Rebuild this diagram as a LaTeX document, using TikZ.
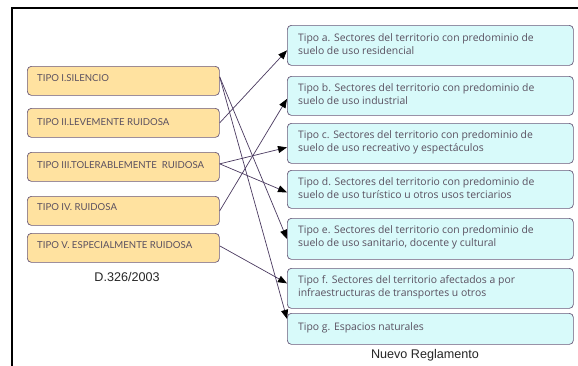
\documentclass[tikz,border=0pt]{standalone}
\usepackage{fontspec}
\setmainfont{Liberation Sans}
\newfontfamily\leftfont{Lato}
\newfontfamily\rightfont{Open Sans}
\usetikzlibrary{arrows.meta}
\definecolor{lfill}{HTML}{FFE2A0}
\definecolor{rfill}{HTML}{D8FAFA}
\definecolor{bord}{HTML}{6A5A7A}
\definecolor{txt}{HTML}{5A5060}
\definecolor{lnk}{HTML}{4A3A60}
\tikzset{
  lbox/.style={draw=bord, fill=lfill, rounded corners=4pt, line width=0.7pt,
    minimum width=192pt, minimum height=29pt, inner sep=0pt, anchor=north west},
  rbox/.style={draw=bord, fill=rfill, rounded corners=4pt, line width=0.7pt,
    minimum width=286pt, inner sep=0pt, anchor=north west},
  ltext/.style={anchor=west, inner sep=0pt, font=\leftfont\fontsize{9.6}{11}\selectfont, text=txt},
  rtext/.style={anchor=west, inner sep=0pt, align=left, font=\rightfont\fontsize{10.4}{13}\selectfont, text=txt},
  lnkline/.style={draw=lnk, line width=0.7pt, -{Triangle[length=9pt,width=7pt,color=black]}},
  caption/.style={font=\fontsize{12.6}{14}\selectfont, text=black!85}
}
\begin{document}
\begin{tikzpicture}[x=1pt,y=-1pt]
\useasboundingbox (0,0) rectangle (578,365);
\fill[white] (0,0) rectangle (578,365);
\draw[black, line width=2pt] (12,366) -- (12,8) -- (579,8);
% left boxes
\node[lbox] (l1) at (27,66) {};
\node[lbox] (l2) at (27,108) {};
\node[lbox] (l3) at (27,152) {};
\node[lbox] (l4) at (27,196) {};
\node[lbox] (l5) at (27,233) {};
\node[ltext] (t1) at (37,78) {TIPO I.SILENCIO};
\node[ltext] (t2) at (37,122) {TIPO II.LEVEMENTE RUIDOSA};
\node[ltext] (t3) at (37,165) {TIPO III.TOLERABLEMENTE\ \ RUIDOSA};
\node[ltext] (t4) at (37,207.5) {TIPO IV. RUIDOSA};
\node[ltext] (t5) at (37,245) {TIPO V. ESPECIALMENTE RUIDOSA};
\node[caption] (cap1) at (127,277) {D.326/2003};
% right boxes
\node[rbox, minimum height=40pt] (r1) at (287,25) {};
\node[rbox, minimum height=39pt] (r2) at (287,76) {};
\node[rbox, minimum height=40pt] (r3) at (287,123) {};
\node[rbox, minimum height=38pt] (r4) at (287,170) {};
\node[rbox, minimum height=41pt] (r5) at (287,218) {};
\node[rbox, minimum height=40pt] (r6) at (287,268) {};
\node[rbox, minimum height=31pt] (r7) at (287,313) {};
\node[rtext] (u1) at (298,44) {Tipo a. Sectores del territorio con predominio de\\suelo de uso residencial};
\node[rtext] (u2) at (298,94.5) {Tipo b. Sectores del territorio con predominio de\\suelo de uso industrial};
\node[rtext] (u3) at (298,142) {Tipo c. Sectores del territorio con predominio de\\suelo de uso recreativo y espectáculos};
\node[rtext] (u4) at (298,188) {Tipo d. Sectores del territorio con predominio de\\suelo de uso turístico u otros usos terciarios};
\node[rtext] (u5) at (298,237.5) {Tipo e. Sectores del territorio con predominio de\\suelo de uso sanitario, docente y cultural};
\node[rtext] (u6) at (298,287) {Tipo f. Sectores del territorio afectados a por\\infraestructuras de transportes u otros};
\node[rtext] (u7) at (298,327.5) {Tipo g. Espacios naturales};
\node[caption] (cap2) at (425,355) {Nuevo Reglamento};
% connectors
\draw[lnkline] ([yshift=4pt]l1.east) -- ([yshift=0pt]r5.west);
\draw[lnkline] ([yshift=4pt]l1.east) -- ([yshift=10pt]r7.west);
\draw[lnkline] (l2.east) -- ([yshift=-5pt]r1.west);
\draw[lnkline] ([yshift=3pt]l3.east) -- ([yshift=-4pt]r3.west);
\draw[lnkline] ([yshift=3pt]l3.east) -- ([yshift=-3pt]r4.west);
\draw[lnkline] (l4.east) -- ([yshift=-3pt]r2.west);
\draw[lnkline] ([yshift=2pt]l5.east) -- ([yshift=5pt]r6.west);
\end{tikzpicture}
\end{document}
